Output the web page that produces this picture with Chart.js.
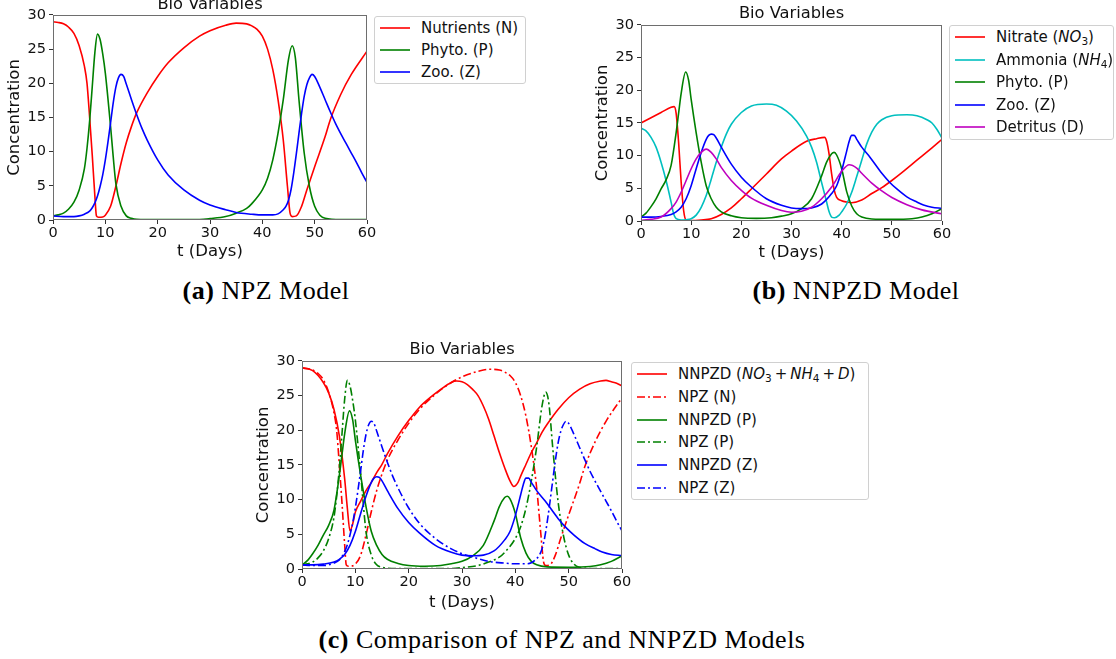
<!DOCTYPE html>
<html>
<head>
<meta charset="utf-8">
<script src="https://cdn.jsdelivr.net/npm/chart.js@4.4.1/dist/chart.umd.min.js"></script>
<style>
  body { margin: 0; background: #fff; width: 1116px; height: 659px; position: relative; overflow: hidden; font-family: 'DejaVu Sans', sans-serif; }
  .panel { position: absolute; }
  .legend { position: absolute; border: 1px solid #d0d0d0; border-radius: 3px; background: #fff; font-size: 15px; color: #111; box-sizing: border-box; }
  .legend .row { display: flex; align-items: center; white-space: nowrap; }
  .legend svg { margin-left: 5px; margin-right: 11px; flex: none; }
  .legend sub { font-size: 0.7em; vertical-align: -0.3em; line-height: 0; }
  .caption { position: absolute; font-family: 'Liberation Serif', serif; font-size: 26px; line-height: 1; letter-spacing: 0.5px; color: #000; white-space: nowrap; transform: translate(-50%, -50%); }
</style>
</head>
<body>
<div class="panel" style="left:5px; top:-5px; width:376px; height:267px;"><canvas id="chart-npz"></canvas></div>
<div class="panel" style="left:593px; top:4px; width:361px; height:259px;"><canvas id="chart-nnpzd"></canvas></div>
<div class="panel" style="left:254px; top:340px; width:380px; height:273px;"><canvas id="chart-compare"></canvas></div>

<div class="legend" id="legend-npz" style="left:374px; top:16px; width:152px;"></div>
<div class="legend" id="legend-nnpzd" style="left:949px; top:25px; width:165px;"></div>
<div class="legend" id="legend-compare" style="left:631px; top:362px; width:238px;"></div>

<div class="caption" style="left:266px; top:291px;"><b>(a)</b> NPZ Model</div>
<div class="caption" style="left:856px; top:291px;"><b>(b)</b> NNPZD Model</div>
<div class="caption" style="left:562px; top:640px;"><b>(c)</b> Comparison of NPZ and NNPZD Models</div>

<script>
/** ────── DATA (t in days, concentration) ────── */
const X_TICKS = [0, 10, 20, 30, 40, 50, 60];
const Y_TICKS = [0, 5, 10, 15, 20, 25, 30];

// NPZ model
const npzN = [[0,29],[1,28.9],[2,28.7],[3,28.2],[4,27.3],[5,25.5],[6,22.5],[6.5,20],[7,15],[7.5,9.5],[8,3.5],[8.3,0.6],[8.7,0.4],[9.5,0.45],[10,0.7],[11,2],[12,4.9],[13,8.3],[14,11.3],[15,13.7],[16,15.7],[18,18.6],[20,21],[22,23],[25,25.2],[28,26.9],[30,27.7],[33,28.5],[35,28.8],[37,28.7],[38,28.4],[39,27.9],[40,26.9],[41,25],[42,22],[43,17.6],[44,11.7],[44.8,4.9],[45.3,1],[45.7,0.5],[46.5,0.6],[47.5,2],[48.5,4.4],[50,7.8],[52,12.2],[53,14.7],[55,18.4],[57,21.3],[60,24.7]];
const npzP = [[0,0.6],[1,0.75],[2,1],[3,1.6],[4,2.6],[5,4.4],[6,7.5],[6.5,10.5],[7,14.5],[7.5,19.5],[8,24.5],[8.5,27.2],[9,26.4],[9.5,24.3],[10,21.5],[11,13.7],[11.5,9.3],[12,5.4],[13,2],[14,0.6],[15,0.25],[16,0.1],[20,0.05],[28,0.08],[30,0.2],[33,0.5],[35,1],[37,1.7],[38,2.4],[40,4.4],[41,6.1],[42,8.8],[43,12.7],[44,17.6],[45,23.5],[45.7,25.5],[46.3,23.8],[47,17.6],[48,9.8],[49,4.9],[50,2],[51,0.7],[52,0.25],[55,0.05],[60,0.05]];
const npzZ = [[0,0.6],[2,0.5],[4,0.5],[5,0.6],[6,0.85],[7,1.3],[7.5,1.8],[8,2.5],[8.5,3.5],[9,4.9],[9.5,6.6],[10,8.8],[10.5,11.4],[11,14.2],[11.5,17.1],[12,19.4],[12.5,20.8],[13,21.3],[13.5,21],[14,19.9],[15,17.6],[16,15.4],[17,13.4],[18,11.7],[20,8.8],[22,6.6],[25,4.4],[28,2.9],[30,2.2],[33,1.5],[35,1.1],[38,0.85],[40,0.75],[42,0.75],[43,0.9],[44,1.5],[44.5,2],[45,2.9],[45.5,4.5],[46,6.9],[46.5,9.7],[47,12.7],[47.5,15.6],[48,18.1],[48.5,19.8],[49,20.8],[49.5,21.3],[50,21],[51,19.4],[52,17.6],[53,15.8],[54,14.1],[55,12.6],[56,11.2],[57,9.8],[58,8.4],[59,6.9],[60,5.5]];

// NNPZD model
const nitrate = [[0,15],[2,15.8],[4,16.6],[6,17.4],[6.6,17.5],[7,16.5],[7.5,12],[8,6],[8.5,1.6],[9,0.15],[10,0.05],[12,0.15],[14,0.35],[16,1],[18,2],[20,3.4],[22,4.9],[25,7.2],[28,9.5],[30,10.7],[33,12.2],[35,12.6],[36.6,12.8],[37,12.2],[37.5,10.2],[38,7.2],[38.5,4.8],[39,3.6],[40,3.1],[41,2.9],[42,2.8],[44,3.2],[46,4.2],[48,5.1],[50,6.2],[52,7.4],[55,9.3],[58,11.2],[60,12.5]];
const ammonia = [[0,14.2],[1,13.8],[2,12.8],[3,11.3],[4,9],[5,6.2],[6,2.9],[6.5,1.1],[7,0.35],[8,0.15],[9,0.2],[10,0.35],[11,0.9],[12,2.1],[13,3.9],[14,6.4],[15,9],[16,11.3],[17,13.3],[18,14.8],[20,16.6],[22,17.6],[25,17.9],[27,17.7],[29,16.8],[31,15.3],[33,13],[34,11.3],[35,9],[36,5.9],[37,2.9],[37.5,1.4],[38,0.6],[38.6,0.5],[39.5,0.9],[40,1.4],[41,2.6],[42,4.4],[43,6.8],[44,9.3],[45,11.8],[46,13.6],[47,14.8],[48,15.5],[50,16.1],[53,16.25],[55,16.1],[57,15.5],[58,15],[59,14],[60,12.7]];
const phyto = [[0,0.6],[1,1.2],[2,2.2],[3,3.4],[4,4.9],[5,6.3],[6,8.5],[7,13.5],[7.5,16.5],[8,19.5],[8.9,22.8],[9.5,21.5],[10,18.6],[11,13.5],[12,9],[13,5.4],[14,3.4],[15,2.1],[16,1.4],[18,0.8],[20,0.5],[23,0.4],[26,0.5],[28,0.75],[30,1.1],[32,1.9],[34,3.4],[36,6.9],[37,9],[38,10.3],[38.5,10.5],[39,10.1],[40,8],[41,4.5],[42,2.3],[43,1.1],[44,0.6],[46,0.3],[50,0.25],[54,0.35],[56,0.6],[58,1.1],[60,1.9]];
const zoo = [[0,0.6],[2,0.6],[4,0.7],[6,1],[7,1.4],[8,2.1],[9,3.4],[10,5.4],[11,8],[12,10.5],[13,12.5],[13.5,13.1],[14,13.3],[14.5,13.2],[15,12.7],[16,11.3],[18,8.7],[20,6.7],[22,5.2],[25,3.4],[28,2.4],[30,2],[32,1.9],[34,2],[36,2.6],[38,4.2],[39,5.4],[40,7.7],[41,10.7],[41.5,12.2],[42,13.1],[42.5,13.1],[43,12.5],[44,11.3],[45.6,9.8],[48,7.3],[49.6,5.9],[51,4.9],[53,3.7],[55,2.9],[56.3,2.45],[58,2.1],[60,1.94]];
const detritus = [[0,0.1],[2,0.25],[4,0.6],[6,1.9],[7,2.9],[8,4.4],[9,6.2],[10,8],[11,9.5],[12,10.5],[13,11],[14,10.5],[15,9.5],[16,8.2],[18,6.2],[20,4.7],[22,3.5],[25,2.4],[28,1.6],[30,1.35],[32,1.5],[34,2.1],[36,3.4],[38,5.2],[40,7.6],[41.5,8.6],[43,8.1],[44,7.3],[46,5.8],[48,4.6],[50,3.6],[53,2.5],[56,1.7],[60,1.1]];

// NNPZD total nitrogen pool (NO3 + NH4 + D)
const nnpzdN = [[0,29],[2,28.6],[4,26.9],[5,25.4],[6,23],[7,19.2],[8,13],[8.5,8.8],[9,5.5],[9.5,6.5],[10,8.2],[11,9.8],[12,11.3],[13,12.5],[14,13.9],[15,15.1],[16,16.6],[18,19.2],[20,21.4],[22,23.3],[24,24.7],[26,25.9],[28,26.9],[29,27.1],[30,27],[31,26.6],[32,25.9],[33,25],[34,23.5],[35,21.6],[36,19.2],[37,16.8],[38,14.6],[39,12.7],[39.7,11.9],[40.5,12.5],[41,13.4],[42,15.1],[43,16.8],[44,18.2],[45,19.7],[46,20.9],[48,23],[50,24.7],[52,25.9],[54,26.7],[56,27.1],[57,27.2],[58,27],[59,26.8],[60,26.4]];

/** ────── STYLE ────── */
const FONT = "'DejaVu Sans', sans-serif";
const INK = "#111111";
const RED = "#ff0000", GREEN = "#008000", BLUE = "#0000ff", CYAN = "#00bfbf", MAGENTA = "#bf00bf";
const DASHDOT = [8, 3, 2, 3];

const npzSeries = [
  { label: "Nutrients (N)", html: "Nutrients (N)", data: npzN, color: RED },
  { label: "Phyto. (P)", html: "Phyto. (P)", data: npzP, color: GREEN },
  { label: "Zoo. (Z)", html: "Zoo. (Z)", data: npzZ, color: BLUE },
];

const nnpzdSeries = [
  { label: "Nitrate (NO3)", html: "Nitrate (<i>NO</i><sub>3</sub>)", data: nitrate, color: RED },
  { label: "Ammonia (NH4)", html: "Ammonia (<i>NH</i><sub>4</sub>)", data: ammonia, color: CYAN },
  { label: "Phyto. (P)", html: "Phyto. (P)", data: phyto, color: GREEN },
  { label: "Zoo. (Z)", html: "Zoo. (Z)", data: zoo, color: BLUE },
  { label: "Detritus (D)", html: "Detritus (D)", data: detritus, color: MAGENTA },
];

const compareSeries = [
  { label: "NNPZD (NO3 + NH4 + D)", html: "NNPZD (<i>NO</i><sub>3</sub>&thinsp;+&thinsp;<i>NH</i><sub>4</sub>&thinsp;+&thinsp;<i>D</i>)", data: nnpzdN, color: RED },
  { label: "NPZ (N)", html: "NPZ (N)", data: npzN, color: RED, dash: DASHDOT },
  { label: "NNPZD (P)", html: "NNPZD (P)", data: phyto, color: GREEN },
  { label: "NPZ (P)", html: "NPZ (P)", data: npzP, color: GREEN, dash: DASHDOT },
  { label: "NNPZD (Z)", html: "NNPZD (Z)", data: zoo, color: BLUE },
  { label: "NPZ (Z)", html: "NPZ (Z)", data: npzZ, color: BLUE, dash: DASHDOT },
];

/** ────── CHART HELPERS ────── */
const framePlugin = {
  id: "frame",
  afterDatasetsDraw(chart) {
    const { ctx, chartArea: a } = chart;
    ctx.save();
    ctx.strokeStyle = "#6e6e6e";
    ctx.lineWidth = 1;
    ctx.strokeRect(Math.round(a.left) + 0.5, Math.round(a.top) + 0.5,
      Math.round(a.right - a.left) - 1, Math.round(a.bottom - a.top) - 1);
    ctx.restore();
  },
};

function fixSize(prop, size) {
  return (scale) => {
    scale[prop] = size;
    scale.paddingLeft = scale.paddingRight = scale.paddingTop = scale.paddingBottom = 0;
  };
}

function axis(ticks, title, prop, size, tickPad) {
  return {
    type: "linear",
    min: 0,
    max: ticks[ticks.length - 1],
    afterBuildTicks: (s) => { s.ticks = ticks.map((v) => ({ value: v })); },
    afterFit: fixSize(prop, size),
    grid: { drawOnChartArea: false, drawTicks: true, tickLength: 4, tickColor: "#333", tickWidth: 1 },
    border: { display: false },
    ticks: { color: INK, padding: tickPad, maxRotation: 0, autoSkip: false, font: { family: FONT, size: 14.5 } },
    title: { display: true, text: title, color: INK, padding: 0, font: { family: FONT, size: 16.5 } },
  };
}

function makeChart(id, series, opt) {
  const ctx = document.getElementById(id);
  return new Chart(ctx, {
    type: "line",
    data: {
      datasets: series.map((s, i) => ({
        label: s.label,
        data: s.data.map(([x, y]) => ({ x, y })),
        borderColor: s.color,
        borderWidth: 1.6,
        borderDash: s.dash || [],
        pointRadius: 0,
        fill: false,
        cubicInterpolationMode: "monotone",
        order: series.length - i,
      })),
    },
    options: {
      responsive: true,
      maintainAspectRatio: false,
      animation: false,
      layout: { padding: { top: 0, right: opt.right, bottom: 0, left: 0 } },
      plugins: {
        legend: { display: false },
        tooltip: { enabled: false },
        title: {
          display: true,
          text: "Bio Variables",
          fullSize: false,
          color: INK,
          font: { family: FONT, size: 16.3, weight: "normal" },
          padding: { top: 0, bottom: opt.titleGap },
        },
      },
      scales: {
        x: axis(X_TICKS, "t (Days)", "height", opt.xBox, 1),
        y: axis(Y_TICKS, "Concentration", "width", 48, 3),
      },
    },
    plugins: [framePlugin],
  });
}

function renderLegend(id, series, rowHeight) {
  const box = document.getElementById(id);
  box.innerHTML = series
    .map((s) => `
      <div class="row" style="height:${rowHeight}px">
        <svg width="30" height="6"><line x1="0" y1="3" x2="30" y2="3" stroke="${s.color}" stroke-width="1.6"
          ${s.dash ? `stroke-dasharray="${s.dash.join(" ")}"` : ""}/></svg>
        <span>${s.html}</span>
      </div>`)
    .join("");
}

/** ────── BOOTSTRAP ────── */
makeChart("chart-npz", npzSeries, { right: 14, titleGap: 0.4, xBox: 42 });
makeChart("chart-nnpzd", nnpzdSeries, { right: 12, titleGap: 1.4, xBox: 42 });
makeChart("chart-compare", compareSeries, { right: 12, titleGap: 1.4, xBox: 44 });

renderLegend("legend-npz", npzSeries, 22);
renderLegend("legend-nnpzd", nnpzdSeries, 22.5);
renderLegend("legend-compare", compareSeries, 22.7);
</script>
</body>
</html>
